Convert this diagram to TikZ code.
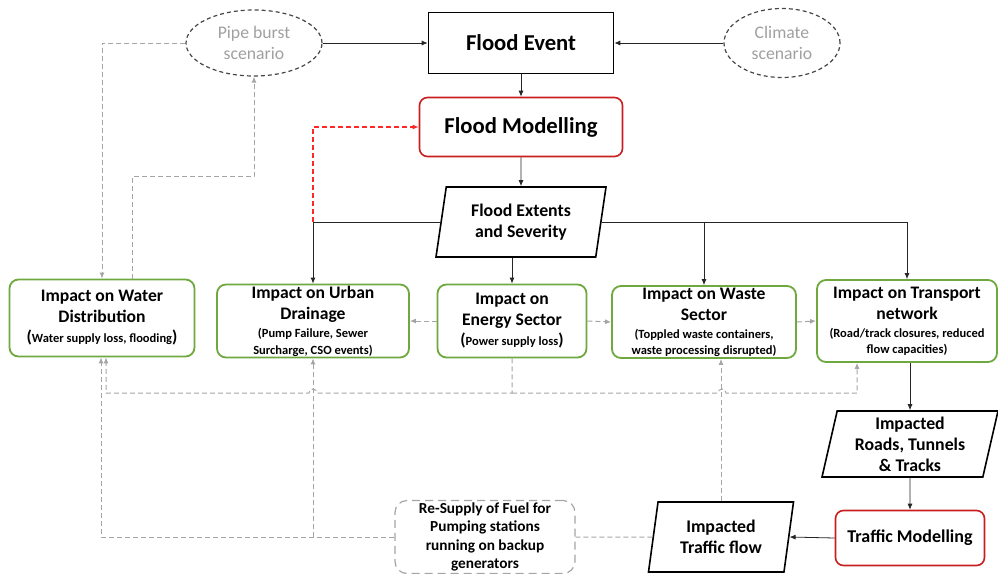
\documentclass[tikz,border=0pt]{standalone}
\usepackage{fontspec}
\setmainfont{Carlito}
\usetikzlibrary{arrows.meta,positioning,shapes.geometric}
\definecolor{impGreen}{RGB}{112,168,64}
\definecolor{modRed}{RGB}{200,30,30}
\definecolor{fbRed}{RGB}{255,40,40}
\definecolor{linkGray}{RGB}{165,165,165}
\definecolor{scenGray}{RGB}{70,70,70}
\definecolor{scenText}{RGB}{160,160,160}
\newcommand{\subtxt}[1]{{\fontsize{12.5}{14}\selectfont #1}}
\newcommand{\bigparen}[1]{{\fontsize{17}{14}\selectfont #1}}

\begin{document}
\begin{tikzpicture}[x=1pt, y=-1pt,
    >={Latex[length=6pt,width=5pt]},
    every node/.style={align=center},
    event/.style={draw=black, line width=1.6pt, font=\bfseries\fontsize{22.7}{26}\selectfont},
    model/.style={draw=modRed, line width=1.6pt, rounded corners=8pt, fill=white},
    scen/.style={ellipse, draw=scenGray, dash pattern=on 4pt off 3pt, line width=1.2pt, text=scenText, inner sep=0pt,
      font=\fontsize{17.7}{21}\selectfont},
    impact/.style={draw=impGreen, line width=1.8pt, rounded corners=9pt, inner sep=1pt, font=\bfseries\fontsize{17.6}{21}\selectfont},
    dataio/.style={trapezium, trapezium left angle=75, trapezium right angle=105, trapezium stretches body,
      draw=black, line width=1.6pt, inner sep=1pt, font=\bfseries\fontsize{17.8}{21}\selectfont},
    fuelbox/.style={draw=linkGray, dash pattern=on 8pt off 5pt, line width=1.2pt, rounded corners=12pt, inner sep=1pt,
      font=\bfseries\fontsize{15.3}{18.5}\selectfont},
    flow/.style={->, line width=0.8pt, draw=black!85},
    link/.style={->, dash pattern=on 5pt off 3pt, line width=1pt, draw=linkGray},
    linkplain/.style={dash pattern=on 5pt off 3pt, line width=1pt, draw=linkGray},
    redlink/.style={->, dash pattern=on 5pt off 3pt, line width=1.1pt, color=fbRed},
  ]
  \useasboundingbox (0,0) rectangle (998,573);

  % top row
  \node[event, minimum width=185pt, minimum height=61pt] (fe) at (521,43) {Flood Event};
  \node[scen, minimum width=136pt, minimum height=66pt] (pipe) at (254,43) {Pipe burst\\scenario};
  \node[scen, minimum width=116pt, minimum height=69pt] (climate) at (782,43) {Climate\\scenario};
  \node[model, minimum width=203pt, minimum height=59pt, font=\bfseries\fontsize{22.7}{26}\selectfont] (fm) at (521,127) {Flood Modelling};
  \node[dataio, minimum width=170pt, minimum height=70pt] (extents) at (521,222) {Flood Extents\\and Severity};

  % impact boxes
  \node[impact, minimum width=185pt, minimum height=77pt] (water) at (102,318)
    {Impact on Water\\Distribution\\[-1pt]\bigparen{(}\subtxt{Water supply loss, flooding}\bigparen{)}};
  \node[impact, minimum width=192pt, minimum height=73pt] (drainage) at (313,321)
    {Impact on Urban\\Drainage\\[-3pt]\subtxt{(Pump Failure, Sewer}\\[-4pt]\subtxt{Surcharge, CSO events)}};
  \node[impact, minimum width=149pt, minimum height=73pt] (energy) at (512,321)
    {Impact on\\Energy Sector\\[-1pt]\bigparen{(}\subtxt{Power supply loss}\bigparen{)}};
  \node[impact, minimum width=184pt, minimum height=72pt] (waste) at (704,322)
    {Impact on Waste\\Sector\\[-3pt]\subtxt{(Toppled waste containers,}\\[-5pt]\subtxt{waste processing disrupted)}};
  \node[impact, minimum width=180pt, minimum height=82pt] (transport) at (907,321)
    {Impact on Transport\\network\\[-3pt]\subtxt{(Road/track closures, reduced}\\[-5pt]\subtxt{flow capacities)}};

  % transport chain
  \node[dataio, minimum width=176pt, minimum height=66pt] (roads) at (910,444) {Impacted\\Roads, Tunnels\\\& Tracks};
  \node[model, minimum width=149pt, minimum height=55pt, font=\bfseries\fontsize{18}{21}\selectfont] (trafmod) at (910,538) {Traffic Modelling};
  \node[dataio, minimum width=145pt, minimum height=70pt] (trafflow) at (721,537) {Impacted\\Traffic flow};
  \node[fuelbox, minimum width=180pt, minimum height=73pt] (fuel) at (485,537)
    {Re-Supply of Fuel for\\Pumping stations\\running on backup\\generators};

  % solid flow
  \draw[flow] (pipe.east) -- (fe.west);
  \draw[flow] (climate.west) -- (fe.east);
  \draw[flow] (fe.south) -- (fm.north);
  \draw[flow] (fm.south) -- (extents.north);
  \draw[flow] (extents.west) -| (drainage.north);
  \draw[flow] (extents.east) -| (transport.north);
  \draw[flow] (extents.east -| waste.north) -- (waste.north);
  \draw[flow] (energy.north |- extents.south) -- (energy.north);
  \draw[flow] (roads.north |- transport.south) -- (roads.north);
  \draw[flow] (roads.south) -- (trafmod.north);
  \draw[flow] (trafmod.west) -- (trafflow.east);

  % feedback to flood modelling
  \draw[redlink] (extents.west -| drainage.north) |- (fm.west);

  % pipe burst loop
  \draw[link] (pipe.west) -| (water.north);
  \draw[link] ([xshift=30pt]water.north) -- ++(0,-102) -| (pipe.south);

  % links between sectors
  \draw[link] (energy.west) -- (drainage.east);
  \draw[link] (energy.east) -- (waste.west);
  \draw[link] (waste.east) -- (transport.west);

  % energy bus, hopping over the crossing lines
  \coordinate (bus) at (512,393);
  \draw[link] (energy.south) -- (bus) -- (317,393) arc[start angle=0, end angle=-180, radius=4] -| ([xshift=4pt]water.south);
  \draw[link] (bus) -- (718,393) arc[start angle=180, end angle=360, radius=4] -| ([xshift=-50pt]transport.south);

  % fuel re-supply and traffic flow
  \draw[link] (fuel.west) -| ([xshift=-1pt]water.south);
  \draw[link] (fuel.west -| drainage.south) -- (drainage.south);
  \draw[linkplain] (trafflow.west) -- (fuel.east);
  \draw[link] (trafflow.north) -- (trafflow.north |- waste.south);
\end{tikzpicture}
\end{document}
